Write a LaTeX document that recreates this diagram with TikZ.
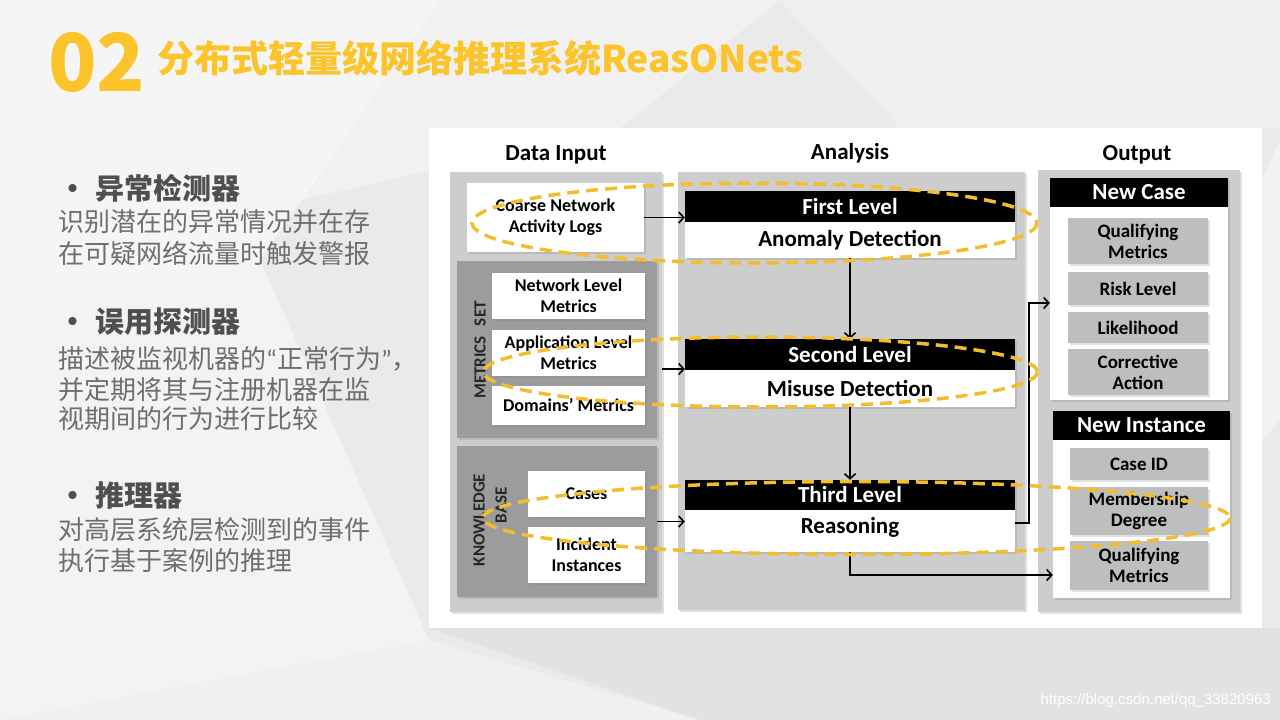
\documentclass[tikz,border=0pt]{standalone}
\usepackage{fontspec}
\setmainfont{Carlito}
\newfontfamily\cjk{Noto Sans CJK SC}
\newfontfamily\calf{Carlito}
\newfontfamily\wmfont{Liberation Sans}
\usetikzlibrary{arrows.meta,shadows,calc}
\definecolor{bgc}{HTML}{EAEAEA}
\definecolor{ttl}{HTML}{FCC42A}
\definecolor{hdg}{HTML}{4F4F4F}
\definecolor{txtg}{HTML}{6E6E6E}
\definecolor{colg}{HTML}{CDCDCD}
\definecolor{darkg}{HTML}{9C9C9C}
\definecolor{itemg}{HTML}{BEBEBE}
\definecolor{ellc}{HTML}{F2BE2E}
\tikzset{
  shd/.style={drop shadow={shadow xshift=1.5pt,shadow yshift=-1.5pt,opacity=0.25}},
  colbox/.style={fill=colg,draw=none,inner sep=0pt,shd},
  darkbox/.style={fill=darkg,draw=none,inner sep=0pt,shd},
  wbox/.style={fill=white,draw=none,inner sep=0pt,align=center,shd,
    font=\calf\bfseries\fontsize{18}{21}\selectfont},
  lvlhead/.style={fill=black,draw=none,inner sep=0pt,text=white,
    font=\calf\bfseries\fontsize{23}{25}\selectfont},
  lvlbody/.style={fill=white,draw=none,inner sep=0pt,shd,
    font=\calf\bfseries\fontsize{23}{25}\selectfont},
  outbox/.style={fill=white,draw=none,inner sep=0pt,shd},
  outitem/.style={fill=itemg,draw=none,inner sep=0pt,align=center,shd,
    font=\calf\bfseries\fontsize{19}{21}\selectfont},
  colhead/.style={font=\calf\bfseries\fontsize{23}{25}\selectfont,inner sep=0pt},
  sidelbl/.style={rotate=90,inner sep=0pt,font=\calf\bfseries\fontsize{17}{19}\selectfont,text=black!85},
  arr/.style={draw=black,line width=1.6pt,-{Straight Barb[length=5pt,width=11pt]}},
  elld/.style={draw=ellc,line width=3.5pt,dash pattern=on 12pt off 7pt},
  bullet/.style={anchor=west,inner sep=0pt,text=hdg,font=\cjk\bfseries\fontsize{29}{32}\selectfont},
  body/.style={anchor=west,inner sep=0pt,text=txtg,font=\cjk\fontsize{26}{30}\selectfont},
}
\begin{document}
\begin{tikzpicture}[x=1pt,y=-1pt]
\useasboundingbox (0,0) rectangle (1280,720);
% background
\fill[bgc] (0,0) rectangle (1280,720);
\fill[white,opacity=0.55] (0,0) -- (440,0) -- (260,260) -- (0,330) -- cycle;
\fill[white,opacity=0.35] (440,0) -- (780,0) -- (620,128) -- (300,200) -- cycle;
\fill[white,opacity=0.45] (0,330) -- (260,260) -- (429,640) -- (0,720) -- cycle;
\fill[white,opacity=0.25] (780,0) -- (1280,0) -- (1280,128) -- (900,128) -- cycle;
\fill[white,opacity=0.4] (1262,180) -- (1280,140) -- (1280,420) -- (1262,440) -- cycle;
\fill[black,opacity=0.03] (429,628) -- (1280,628) -- (1280,720) -- (700,720) -- cycle;
\fill[white,opacity=0.3] (0,720) -- (429,640) -- (700,720) -- cycle;

% title
\node[anchor=base west,inner sep=0pt,text=ttl,font=\cjk\bfseries\fontsize{80}{80}\selectfont] (num) at (48,91) {02};
\node[anchor=base west,inner sep=0pt,text=ttl,font=\cjk\bfseries\fontsize{37}{40}\selectfont] (title) at (157,72) {分布式轻量级网络推理系统ReasONets};

% left texts
\node[bullet] (b1) at (58,188) {•\hspace{8pt}异常检测器};
\node[body] (t11) at (58,222) {识别潜在的异常情况并在存};
\node[body] (t12) at (58,254) {在可疑网络流量时触发警报};
\node[bullet] (b2) at (58,322) {•\hspace{8pt}误用探测器};
\node[body] (t21) at (58,359) {描述被监视机器的{\calf “}正常行为{\calf ”}，};
\node[body] (t22) at (58,390) {并定期将其与注册机器在监};
\node[body] (t23) at (58,419) {视期间的行为进行比较};
\node[bullet] (b3) at (58,496) {•\hspace{8pt}推理器};
\node[body] (t31) at (58,530) {对高层系统层检测到的事件};
\node[body] (t32) at (58,561) {执行基于案例的推理};

% diagram panel
\fill[white] (429,128) rectangle (1262,628);

\node[colhead] (hdi) at (556,155) {Data Input};
\node[colhead] (han) at (850,153) {Analysis};
\node[colhead] (hout) at (1137,155) {Output};

% data input column
\node[colbox,minimum width=212pt,minimum height=440pt] (dcol) at (556,392) {};
\node[wbox,minimum width=177pt,minimum height=69pt] (coarse) at (555.5,217.5) {Coarse Network\\Activity Logs};
\node[darkbox,minimum width=200pt,minimum height=177pt] (metrics) at (557,349.5) {};
\node[wbox,minimum width=153pt,minimum height=46pt] (netlvl) at (568.5,296) {Network Level\\Metrics};
\node[wbox,minimum width=153pt,minimum height=46pt] (applvl) at (568.5,353) {Application Level\\Metrics};
\node[wbox,minimum width=153pt,minimum height=39pt] (domains) at (568.5,405.5) {Domains’ Metrics};
\node[sidelbl] (msl) at (480,350) {METRICS\hspace{10pt}SET};
\node[darkbox,minimum width=200pt,minimum height=151pt] (kb) at (557,521.5) {};
\node[wbox,minimum width=117pt,minimum height=46pt] (cases) at (586.5,494) {Cases};
\node[wbox,minimum width=117pt,minimum height=56pt] (incid) at (586.5,555) {Incident\\Instances};
\node[sidelbl] (kbl1) at (479,520) {KNOWLEDGE};
\node[sidelbl] (kbl2) at (501,505) {BASE};

% analysis column
\node[colbox,minimum width=347pt,minimum height=438pt] (acol) at (851.5,391) {};
\node[lvlbody,minimum width=330pt,minimum height=67pt] (l1box) at (850,224.5) {};
\node[lvlhead,minimum width=330pt,minimum height=31pt] (first) at (850,206.5) {First Level};
\node[inner sep=0pt,font=\calf\bfseries\fontsize{23}{25}\selectfont] (anom) at (850,240) {Anomaly Detection};
\node[lvlbody,minimum width=330pt,minimum height=68pt] (l2box) at (850,373) {};
\node[lvlhead,minimum width=330pt,minimum height=31pt] (second) at (850,354.5) {Second Level};
\node[inner sep=0pt,font=\calf\bfseries\fontsize{23}{25}\selectfont] (misuse) at (850,388.5) {Misuse Detection};
\node[lvlbody,minimum width=330pt,minimum height=72pt] (l3box) at (850,516) {};
\node[lvlhead,minimum width=330pt,minimum height=30pt] (third) at (850,495) {Third Level};
\node[inner sep=0pt,font=\calf\bfseries\fontsize{23}{25}\selectfont] (reason) at (850,527) {Reasoning};

% output column
\node[colbox,minimum width=202pt,minimum height=442pt] (ocol) at (1139,391) {};
\node[outbox,minimum width=178pt,minimum height=222pt] (newcase) at (1139,289) {};
\node[lvlhead,minimum width=178pt,minimum height=29pt] (nch) at (1139,192.5) {New Case};
\node[outitem,minimum width=140pt,minimum height=46pt] (qm1) at (1138,241) {Qualifying\\Metrics};
\node[outitem,minimum width=140pt,minimum height=33pt] (risk) at (1138,288.5) {Risk Level};
\node[outitem,minimum width=140pt,minimum height=31pt] (like) at (1138,327.5) {Likelihood};
\node[outitem,minimum width=140pt,minimum height=46pt] (corr) at (1138,372) {Corrective\\Action};
\node[outbox,minimum width=177pt,minimum height=187pt] (newinst) at (1141.5,504.5) {};
\node[lvlhead,minimum width=177pt,minimum height=29pt] (nih) at (1141.5,425.5) {New Instance};
\node[outitem,minimum width=138pt,minimum height=32pt] (caseid) at (1139,464) {Case ID};
\node[outitem,minimum width=138pt,minimum height=48pt] (memb) at (1139,511) {Membership\\Degree};
\node[outitem,minimum width=138pt,minimum height=49pt] (qm2) at (1139,565.5) {Qualifying\\Metrics};

% connectors
\draw[arr] (coarse.east) -- (coarse.east -| l1box.west);
\coordinate (a2) at ([shift={(5,19.5)}]metrics.east);
\draw[arr] (a2) -- (a2 -| l2box.west);
\draw[arr] (kb.east) -- (kb.east -| l3box.west);
\draw[arr] (l1box.south) -- (l2box.north);
\draw[arr] (l2box.south) -- (l3box.north);
\coordinate (r1) at ([shift={(0,7)}]l3box.east);
\coordinate (nc1) at ([shift={(0,14)}]newcase.west);
\draw[arr] (r1) -- ++(14,0) |- (nc1);
\coordinate (ni1) at ([shift={(0,70.5)}]newinst.west);
\draw[arr] (l3box.south) |- (ni1);

% dashed ellipses
\draw[elld] (754.5,223) ellipse [x radius=282.5, y radius=40];
\draw[elld] (760.5,372) ellipse [x radius=277, y radius=35];
\draw[elld] (856.5,518) ellipse [x radius=373.5, y radius=36.5];

% watermark
\node[anchor=east,inner sep=0pt,text=white,font=\wmfont\fontsize{15}{17}\selectfont] (wm) at (1271,701) {https://blog.csdn.net/qq\_33820963};
\end{tikzpicture}
\end{document}
